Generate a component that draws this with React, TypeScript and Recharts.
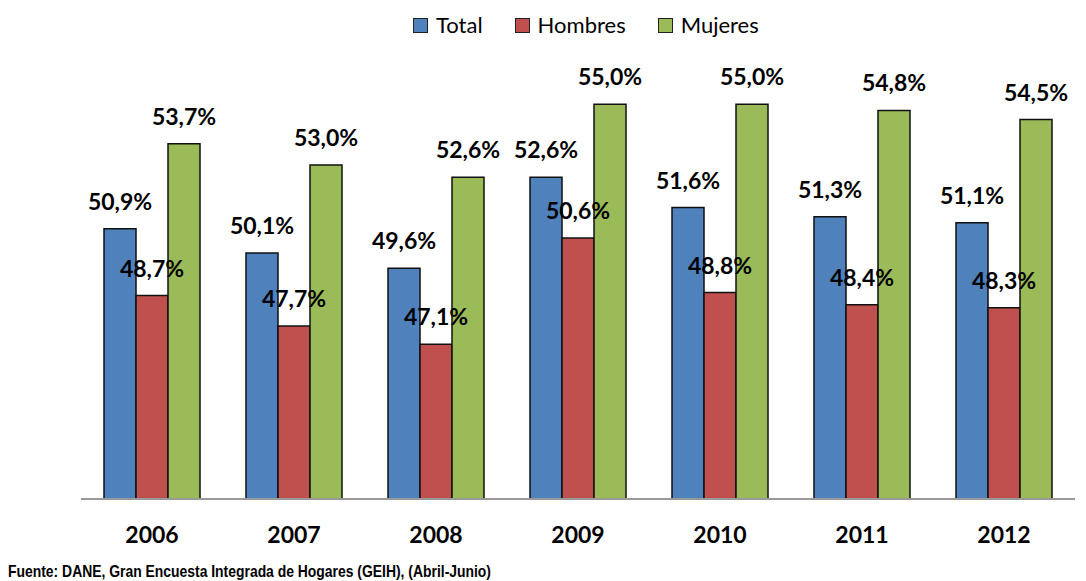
import React from 'react';
import { BarChart, Bar, XAxis, YAxis, LabelList } from 'recharts';

const years = ['2006', '2007', '2008', '2009', '2010', '2011', '2012'];
const total = [50.9, 50.1, 49.6, 52.6, 51.6, 51.3, 51.1];
const hombres = [48.7, 47.7, 47.1, 50.6, 48.8, 48.4, 48.3];
const mujeres = [53.7, 53.0, 52.6, 55.0, 55.0, 54.8, 54.5];
const yTicks = [42, 44, 46, 48, 50, 52, 54, 56];

const series = [
  { key: 'Total', color: '#4F81BD' },
  { key: 'Hombres', color: '#C0504D' },
  { key: 'Mujeres', color: '#9BBB59' },
];

const data = years.map((y, i) => ({
  year: y,
  Total: total[i],
  Hombres: hombres[i],
  Mujeres: mujeres[i],
}));

const W = 1086;
const H = 581;
const margin = { top: 74, right: 11, left: 81, bottom: 32 };
const labelFont = 'Lato, "Open Sans", sans-serif';

const fmt = (v: number) => v.toFixed(1).replace('.', ',') + '%';

const YearTick = ({ x, y, payload }: any) => (
  <text x={x} y={y} dy={44} textAnchor="middle" fontFamily={labelFont}
    fontWeight={700} fontSize={23} fill="#000">
    {payload.value}
  </text>
);

const ValueLabel = ({ x, y, width, value }: any) => (
  <text x={Number(x) + Number(width) / 2} y={Number(y) - 19} textAnchor="middle"
    fontFamily={labelFont} fontWeight={700} fontSize={23} fill="#000">
    {fmt(Number(value))}
  </text>
);

// legend drawn outside the chart so it doesn't push the plot area down
const LegendBox = () => (
  <div style={{ position: 'absolute', top: 11, left: 413, display: 'flex', alignItems: 'center',
    fontFamily: labelFont, fontSize: 22, color: '#000', lineHeight: '28px' }}>
    {series.map((s, i) => (
      <div key={s.key} style={{ display: 'flex', alignItems: 'center', marginLeft: i ? 32 : 0 }}>
        <span style={{ width: 13, height: 13, background: s.color, border: '1.5px solid #222', marginRight: 8 }} />
        <span>{s.key}</span>
      </div>
    ))}
  </div>
);

const Chart = ({ labels }: { labels: boolean }) => (
  <BarChart width={W} height={H} data={data} margin={margin} barCategoryGap="16.2%" barGap={0}>
    <XAxis dataKey="year" height={50} tickLine={false} tickSize={0} tickMargin={0}
      axisLine={labels ? false : { stroke: '#999', strokeWidth: 2 }} tick={labels ? false : <YearTick />} />
    <YAxis hide type="number" domain={[42, 56]} ticks={yTicks} allowDataOverflow />
    {series.map((s) => (
      <Bar key={s.key} dataKey={s.key} isAnimationActive={false}
        fill={labels ? 'none' : s.color} stroke={labels ? 'none' : '#111'} strokeWidth={1.5}>
        {labels && <LabelList dataKey={s.key} content={<ValueLabel />} />}
      </Bar>
    ))}
  </BarChart>
);

export default function App() {
  return (
    <div style={{ position: 'absolute', left: 0, top: 0, width: W, height: H, background: '#fff' }}>
      <Chart labels={false} />
      <div style={{ position: 'absolute', left: 0, top: 0 }}>
        <Chart labels />
      </div>
      <LegendBox />
      <svg width={W} height={H} style={{ position: 'absolute', left: 0, top: 0, pointerEvents: 'none' }}>
        <text x={8} y={577} fontFamily='"Liberation Sans", Arial, sans-serif' fontWeight={700}
          fontSize={17} fill="#000" textLength={483} lengthAdjust="spacingAndGlyphs">
          Fuente: DANE, Gran Encuesta Integrada de Hogares (GEIH), (Abril-Junio)
        </text>
      </svg>
    </div>
  );
}
